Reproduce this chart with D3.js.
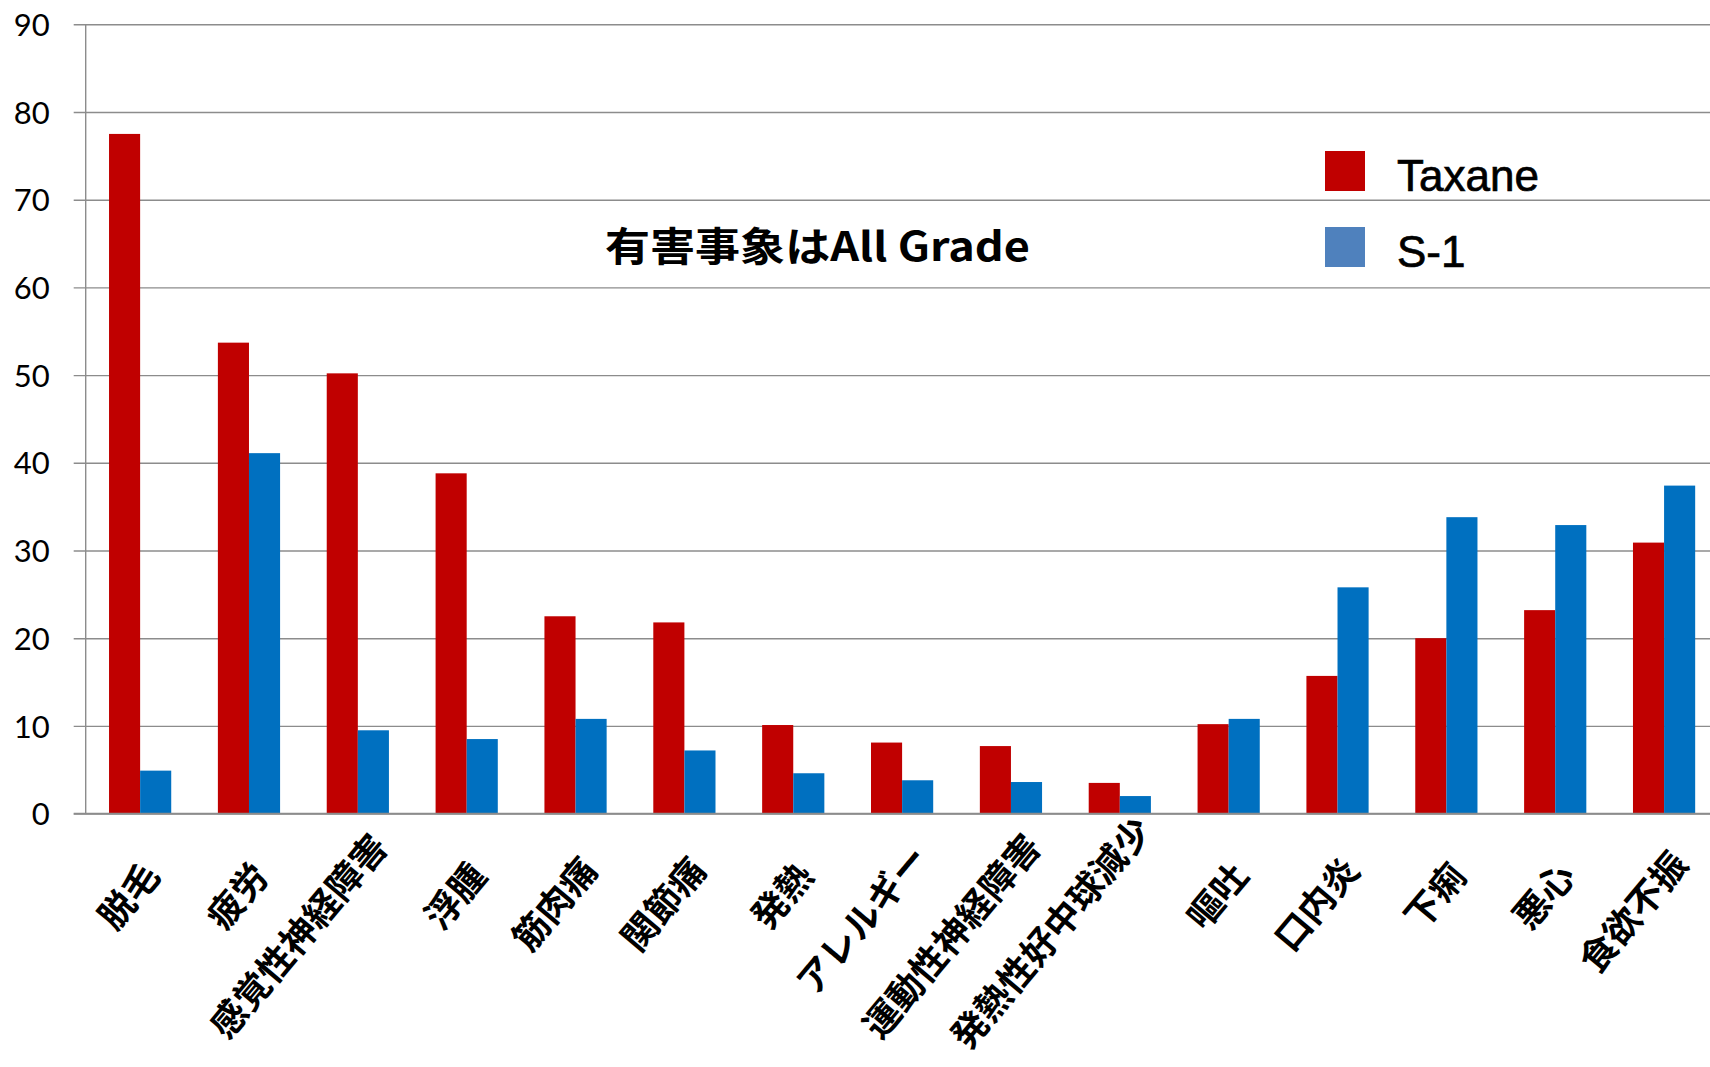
<!DOCTYPE html>
<html>
<head>
<meta charset="utf-8">
<script src="https://cdn.jsdelivr.net/npm/d3@7"></script>
<style>
  html, body { margin: 0; padding: 0; background: #ffffff; }
  svg { display: block; }
</style>
</head>
<body>
<svg id="chart" width="1710" height="1067"></svg>
<script>
// Adverse events (%), all grades
const categories = ["脱毛", "疲労", "感覚性神経障害", "浮腫", "筋肉痛", "関節痛", "発熱", "アレルギー",
  "運動性神経障害", "発熱性好中球減少", "嘔吐", "口内炎", "下痢", "悪心", "食欲不振"];
const taxaneValues = [77.5, 53.7, 50.2, 38.8, 22.5, 21.8, 10.1, 8.1, 7.7, 3.5, 10.2, 15.7, 20.0, 23.2, 30.9];
const s1Values = [4.9, 41.1, 9.5, 8.5, 10.8, 7.2, 4.6, 3.8, 3.6, 2.0, 10.8, 25.8, 33.8, 32.9, 37.4];
const yTickValues = [0, 10, 20, 30, 40, 50, 60, 70, 80, 90];
const seriesNames = ["Taxane", "S-1"];
const annotationText = "有害事象はAll Grade";

const W = 1710, H = 1067;
const plot = { left: 85.7, top: 24.3, bottom: 813.6, right: 1718.5 };
const barColors = ["#C00000", "#0070C0"];
const legendColors = ["#C00000", "#4F81BD"];
const gridColor = "#8c8c8c";

const svg = d3.select("#chart");

const x = d3.scaleBand().domain(categories).range([plot.left, plot.right]).padding(0);
const y = d3.scaleLinear().domain([0, 90]).range([plot.bottom, plot.top]);

// Clustered bars with a 150% gap width
const barW = x.bandwidth() / 3.5;
const groupOffset = x.bandwidth() * 0.75 / 3.5;

// Gridlines + y axis
const yAxis = d3.axisLeft(y).tickValues(yTickValues).tickSize(0).tickPadding(0);
const gy = svg.append("g").attr("transform", `translate(${plot.left},0)`).call(yAxis);
gy.select(".domain").remove();
gy.selectAll(".tick line").remove();
gy.selectAll(".tick").append("line")
  .attr("x1", -12).attr("x2", W - plot.left)
  .attr("stroke", gridColor).attr("stroke-width", 1.4);
gy.selectAll(".tick text")
  .attr("x", -36).attr("dy", "0.36em")
  .attr("fill", "#000")
  .style("font-family", "Lato, 'Open Sans', sans-serif")
  .style("font-size", "31px")
  .attr("text-anchor", "end");

// vertical axis line
svg.append("line")
  .attr("x1", plot.left).attr("x2", plot.left)
  .attr("y1", y(90)).attr("y2", y(0))
  .attr("stroke", gridColor).attr("stroke-width", 1.4);

// Bars
const series = [taxaneValues, s1Values];
series.forEach((vals, si) => {
  svg.append("g").selectAll("rect")
    .data(categories.map((c, i) => ({ c, v: vals[i] })))
    .join("rect")
    .attr("x", d => x(d.c) + groupOffset + si * barW)
    .attr("y", d => y(d.v))
    .attr("width", barW)
    .attr("height", d => y(0) - y(d.v))
    .attr("fill", barColors[si]);
});

// baseline drawn over the bars
svg.append("line")
  .attr("x1", plot.left - 12).attr("x2", W)
  .attr("y1", y(0)).attr("y2", y(0))
  .attr("stroke", gridColor).attr("stroke-width", 1.6);

// Category labels, rotated; longer labels are lifted so they stay above the bottom edge
const labelSize = 36;
const angle = 50;
const rad = angle * Math.PI / 180;
const labelFloor = 1053;
svg.append("g").selectAll("text")
  .data(categories)
  .join("text")
  .attr("transform", d => {
    const n = d.length;
    const cx = x(d) + x.bandwidth() / 2;
    // centre of the last character
    const ex = cx - 6 + 2 * n;
    let ey = 892 - 5.8 * n;
    // lowest point of the first character
    const reach = (n - 1) * labelSize * Math.sin(rad) + (labelSize / 2) * (Math.sin(rad) + Math.cos(rad));
    ey = Math.min(ey, labelFloor - reach);
    const px = ex + (labelSize / 2) * Math.cos(rad);
    const py = ey - (labelSize / 2) * Math.sin(rad);
    return `translate(${px},${py}) rotate(${-angle})`;
  })
  .attr("text-anchor", "end")
  .attr("dominant-baseline", "central")
  .style("font-family", "'Noto Sans CJK JP', sans-serif")
  .style("font-weight", 700)
  .style("font-size", labelSize + "px")
  .attr("fill", "#000")
  .text(d => d);

// Annotation
svg.append("text")
  .attr("x", 605).attr("y", 261)
  .attr("textLength", 425).attr("lengthAdjust", "spacingAndGlyphs")
  .style("font-family", "'Noto Sans CJK JP', sans-serif")
  .style("font-weight", 700)
  .style("font-size", "40px")
  .attr("fill", "#000")
  .text(annotationText);

// Legend
const legend = svg.append("g");
seriesNames.forEach((name, i) => {
  const yy = 151 + i * 76;
  legend.append("rect")
    .attr("x", 1325).attr("y", yy).attr("width", 40).attr("height", 40)
    .attr("fill", legendColors[i]);
  legend.append("text")
    .attr("x", 1397).attr("y", yy + 40)
    .style("font-family", "'Liberation Sans', Arial, sans-serif")
    .style("font-size", "44px")
    .attr("fill", "#000").attr("stroke", "#000").attr("stroke-width", 0.7)
    .text(name);
});
</script>
</body>
</html>
